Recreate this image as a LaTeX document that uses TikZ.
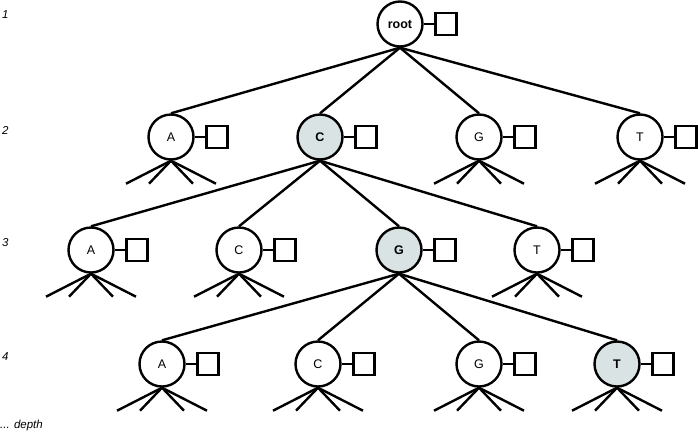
\documentclass[tikz,border=0pt]{standalone}
\usepackage{fontspec}
\setmainfont{Liberation Sans}
\definecolor{hlc}{RGB}{217,227,227}
\tikzset{
  ln/.style={line width=2.4pt},
  nd/.style={circle, draw, line width=2.4pt, minimum size=45pt, inner sep=0pt, fill=white, font=\fontsize{12.5}{14}\selectfont},
  hl/.style={nd, fill=hlc, font=\fontsize{12.5}{14}\selectfont\bfseries},
  sq/.style={draw, line width=2.4pt, minimum width=21pt, minimum height=22pt, inner sep=0pt, fill=white},
  dl/.style={anchor=west, inner sep=0pt, font=\fontsize{11.5}{13}\selectfont\itshape}
}
\newcommand\treenode[5]{%
  \node[#5] (#1) at (#2,#3) {#4};
  \node[sq] (#1s) at ($(#1)+(46,0)$) {};
  \draw[ln] (#1.east) -- (#1s.west);
}
\newcommand\fan[1]{%
  \draw[ln] (#1.south) -- ++(-45,23);
  \draw[ln] (#1.south) -- ++(-22,23);
  \draw[ln] (#1.south) -- ++(22,23);
  \draw[ln] (#1.south) -- ++(45,23);
}
\usetikzlibrary{calc}
\begin{document}
\begin{tikzpicture}[x=1pt,y=-1pt]
\useasboundingbox (0,0) rectangle (698,437);
% depth labels
\node[dl] (d1) at (2,15) {1};
\node[dl] (d2) at (2,130) {2};
\node[dl] (d3) at (2,243) {3};
\node[dl] (d4) at (2,357) {4};
\node[dl] (dd) at (0,426) {... depth};
\treenode{root}{400}{24}{\bfseries root}{nd}
\treenode{a2}{171}{137}{A}{nd}
\treenode{c2}{320}{137}{C}{hl}
\treenode{g2}{479}{137}{G}{nd}
\treenode{t2}{640}{137}{T}{nd}
\treenode{a3}{91}{250}{A}{nd}
\treenode{c3}{239}{250}{C}{nd}
\treenode{g3}{399}{250}{G}{hl}
\treenode{t3}{537}{250}{T}{nd}
\treenode{a4}{162}{364}{A}{nd}
\treenode{c4}{318}{364}{C}{nd}
\treenode{g4}{479}{364}{G}{nd}
\treenode{t4}{617}{364}{T}{hl}
\foreach \c in {a2,c2,g2,t2} \draw[ln] (root.south) -- (\c.north);
\foreach \c in {a3,c3,g3,t3} \draw[ln] (c2.south) -- (\c.north);
\foreach \c in {a4,c4,g4,t4} \draw[ln] (g3.south) -- (\c.north);
\foreach \n in {a2,g2,t2,a3,c3,t3,a4,c4,g4,t4} {\fan{\n}}
\end{tikzpicture}
\end{document}
